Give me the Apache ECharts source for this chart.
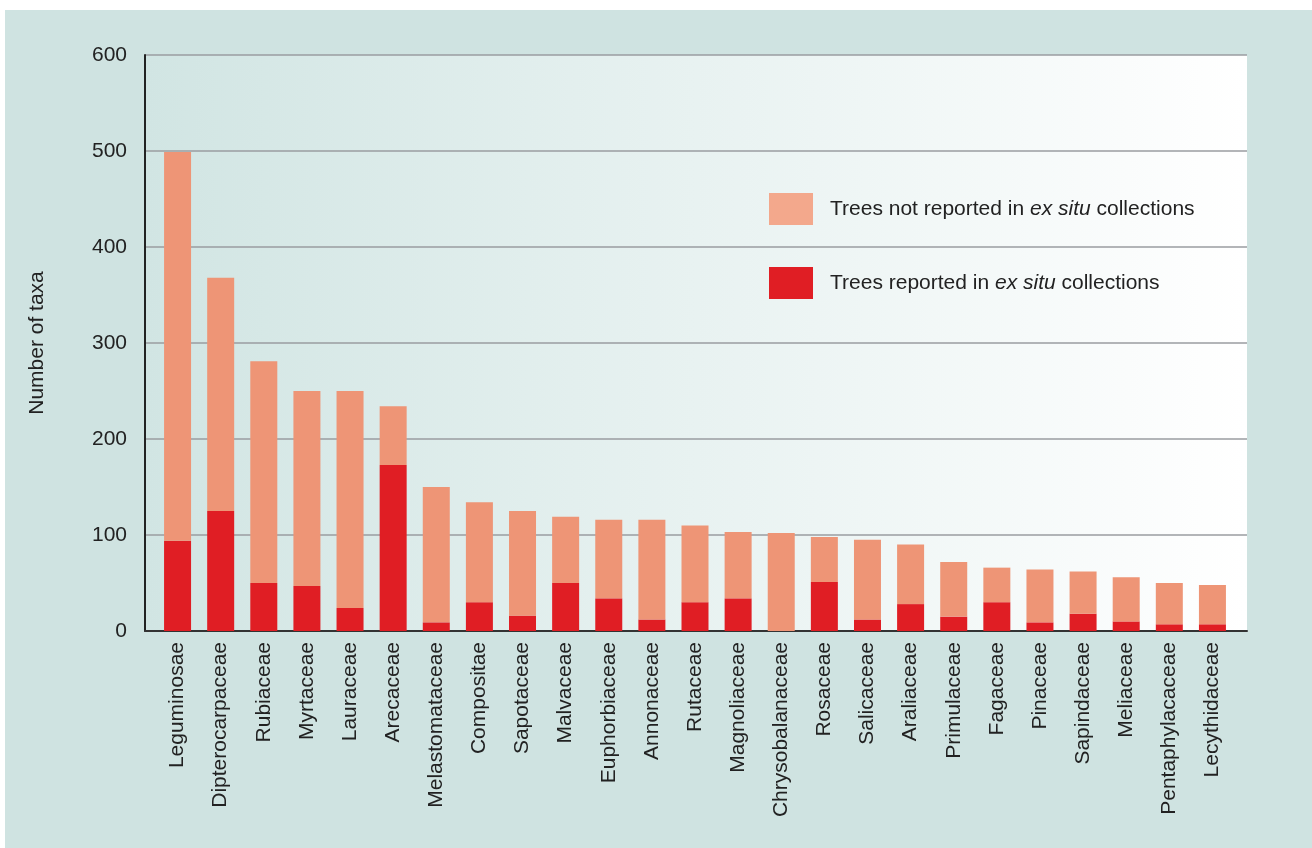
<!DOCTYPE html>
<html>
<head>
<meta charset="utf-8">
<script src="https://cdn.jsdelivr.net/npm/echarts@6/dist/echarts.min.js"></script>
<style>
html,body{margin:0;padding:0;background:#ffffff;}
#chart{position:absolute;left:5px;top:10px;width:1307px;height:838px;}
</style>
</head>
<body>
<div id="chart"></div>
<script>
const categories = ['Leguminosae','Dipterocarpaceae','Rubiaceae','Myrtaceae','Lauraceae','Arecaceae','Melastomataceae','Compositae','Sapotaceae','Malvaceae','Euphorbiaceae','Annonaceae','Rutaceae','Magnoliaceae','Chrysobalanaceae','Rosaceae','Salicaceae','Araliaceae','Primulaceae','Fagaceae','Pinaceae','Sapindaceae','Meliaceae','Pentaphylacaceae','Lecythidaceae'];
const totals = [499, 368, 281, 250, 250, 234, 150, 134, 125, 119, 116, 116, 110, 103, 102, 98, 95, 90, 72, 66, 64, 62, 56, 50, 48];
const reported = [94, 125, 50, 47, 24, 173, 9, 30, 16, 50, 34, 12, 30, 34, 0, 51, 12, 28, 15, 30, 9, 18, 10, 7, 7];
const notReported = totals.map((t, i) => t - reported[i]);
const yTicks = [0, 100, 200, 300, 400, 500, 600];

const chart = echarts.init(document.getElementById('chart'));
const font = '"Liberation Sans", Arial, Helvetica, sans-serif';
chart.setOption({
  backgroundColor: '#cfe3e1',
  textStyle: {fontFamily: font},
  animation: false,
  grid: [
    {
      left: 140, top: 45, right: 65, bottom: 217,
      show: true, borderWidth: 0,
      backgroundColor: new echarts.graphic.LinearGradient(0, 0, 1, 0, [
        {offset: 0, color: '#d1e5e3'},
        {offset: 1, color: '#ffffff'}
      ])
    },
    {left: 151, top: 45, right: 78, bottom: 217}
  ],
  legend: {
    orient: 'vertical',
    left: 764, top: 183, padding: 0,
    icon: 'rect',
    itemWidth: 44, itemHeight: 32, itemGap: 42,
    data: [
      {name: 'Trees not reported in ex situ collections', itemStyle: {color: '#f3a88c'}},
      {name: 'Trees reported in ex situ collections', itemStyle: {color: '#e01e24'}}
    ],
    formatter: function (name) {
      if (name.indexOf('not') >= 0) return '{n|Trees not reported in }{i|ex situ}{n| collections}';
      return '{n|Trees reported in }{i|ex situ}{n| collections}';
    },
    textStyle: {
      padding: [0, 0, 0, 12],
      rich: {
        n: {fontSize: 21, color: '#222', fontFamily: font},
        i: {fontSize: 21, color: '#222', fontStyle: 'italic', fontFamily: font}
      }
    }
  },
  xAxis: [
    {
      gridIndex: 0,
      type: 'category',
      data: categories,
      axisLine: {lineStyle: {color: '#333', width: 2}},
      axisTick: {show: false},
      axisLabel: {show: false},
      splitLine: {show: false}
    },
    {
      gridIndex: 1,
      type: 'category',
      data: categories,
      axisLine: {show: false},
      axisTick: {show: false},
      axisLabel: {rotate: 90, fontSize: 21, color: '#222', margin: 11, interval: 0}
    }
  ],
  yAxis: [
    {
      gridIndex: 0,
      type: 'value',
      min: 0, max: 600, interval: 100,
      name: 'Number of taxa',
      nameLocation: 'middle',
      nameGap: 97,
      nameTextStyle: {fontSize: 21, color: '#222'},
      axisLine: {show: true, lineStyle: {color: '#222', width: 2}},
      axisTick: {show: false},
      axisLabel: {fontSize: 21, color: '#222', margin: 18,
        formatter: v => yTicks.indexOf(v) >= 0 ? String(v) : ''},
      splitLine: {lineStyle: {color: '#9a9da0', width: 1.5}}
    },
    {
      gridIndex: 1,
      type: 'value',
      min: 0, max: 600, interval: 100,
      show: false,
      splitLine: {show: false}
    }
  ],
  series: [
    {
      name: 'Trees reported in ex situ collections',
      type: 'bar', stack: 'a', data: reported,
      xAxisIndex: 1, yAxisIndex: 1,
      barWidth: 27,
      itemStyle: {color: '#e01e24'}
    },
    {
      name: 'Trees not reported in ex situ collections',
      type: 'bar', stack: 'a', data: notReported,
      xAxisIndex: 1, yAxisIndex: 1,
      barWidth: 27,
      itemStyle: {color: '#ee9576'}
    }
  ]
});
</script>
</body>
</html>
